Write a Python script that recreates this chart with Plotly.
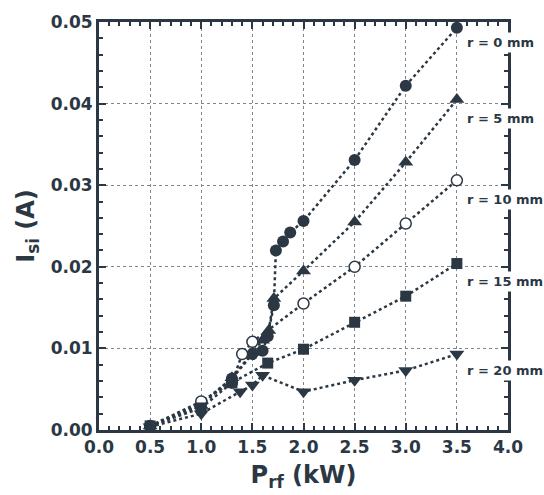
import plotly.graph_objects as go

# Data (P_rf in kW, I_si in A)
p_r0 = [0.5, 1.0, 1.3, 1.5, 1.6, 1.65, 1.71, 1.73, 1.8, 1.87, 2.0, 2.5, 3.0, 3.5]
i_r0 = [0.0005, 0.0033, 0.0063, 0.0093, 0.0097, 0.0115, 0.0153, 0.0220, 0.0231, 0.0242, 0.0256, 0.0331, 0.0422, 0.0493]

p_r5 = [0.5, 1.0, 1.3, 1.5, 1.6, 1.66, 1.71, 2.0, 2.5, 3.0, 3.5]
i_r5 = [0.0005, 0.0030, 0.0064, 0.0095, 0.0110, 0.0122, 0.0161, 0.0195, 0.0255, 0.0328, 0.0405]

p_r10 = [0.5, 1.0, 1.3, 1.4, 1.5, 2.0, 2.5, 3.0, 3.5]
i_r10 = [0.0005, 0.0035, 0.0058, 0.0093, 0.0108, 0.0155, 0.0200, 0.0253, 0.0306]

p_r15 = [0.5, 1.0, 1.3, 1.65, 2.0, 2.5, 3.0, 3.5]
i_r15 = [0.0005, 0.0027, 0.0058, 0.0082, 0.0099, 0.0132, 0.0164, 0.0204]

p_r20 = [0.5, 1.0, 1.38, 1.5, 1.6, 2.0, 2.5, 3.0, 3.5]
i_r20 = [0.0004, 0.0020, 0.0047, 0.0055, 0.0067, 0.0047, 0.0061, 0.0073, 0.0093]

labels = ["r = 0 mm", "r = 5 mm", "r = 10 mm", "r = 15 mm", "r = 20 mm"]
label_y = [0.0475, 0.0382, 0.0282, 0.0182, 0.0073]

x_ticks = [0.0, 0.5, 1.0, 1.5, 2.0, 2.5, 3.0, 3.5, 4.0]
y_ticks = [0.00, 0.01, 0.02, 0.03, 0.04, 0.05]

INK = "#2b3844"
FONT = "DejaVu Sans"

series = [
    (p_r0, i_r0, dict(symbol="circle", size=12, color=INK)),
    (p_r5, i_r5, dict(symbol="triangle-up", size=13, color=INK)),
    (p_r10, i_r10, dict(symbol="circle", size=11, color="white", line=dict(color=INK, width=1.5))),
    (p_r15, i_r15, dict(symbol="square", size=11, color=INK)),
    (p_r20, i_r20, dict(symbol="triangle-down", size=13, color=INK)),
]

fig = go.Figure()
for xs, ys, mk in series:
    fig.add_trace(go.Scatter(
        x=xs, y=ys, mode="lines+markers",
        line=dict(color=INK, width=2.5, dash="dot"),
        marker=mk, showlegend=False, cliponaxis=False,
    ))

for txt, yv in zip(labels, label_y):
    fig.add_annotation(
        x=3.57, y=yv, xref="x", yref="y", text=txt, showarrow=False,
        xanchor="left", yanchor="middle",
        font=dict(family=FONT, size=13, color=INK, weight="bold"),
        bgcolor="white", borderpad=2,
    )

axis_common = dict(
    showline=True, linecolor=INK, linewidth=3, mirror="allticks",
    ticks="inside", ticklen=7, tickwidth=2, tickcolor=INK,
    showgrid=True, gridcolor="#7d8790", gridwidth=1.2, griddash="dot",
    zeroline=False,
    tickfont=dict(family=FONT, size=17, color=INK, weight="bold"),
)

fig.update_xaxes(
    range=[0, 4], tickvals=x_ticks, ticktext=[f"{v:.1f}" for v in x_ticks],
    minor=dict(dtick=0.1, ticks="inside", ticklen=4, tickwidth=1.5, tickcolor=INK, showgrid=False),
    title=dict(text="P<sub>rf</sub> (kW)", standoff=10,
               font=dict(family=FONT, size=24, color=INK, weight="bold")),
    **axis_common,
)
fig.update_yaxes(
    range=[0, 0.05], tickvals=y_ticks, ticktext=[f"{v:.2f}" for v in y_ticks],
    minor=dict(dtick=0.002, ticks="inside", ticklen=4, tickwidth=1.5, tickcolor=INK, showgrid=False),
    title=dict(text="I<sub>si</sub> (A)", standoff=10,
               font=dict(family=FONT, size=24, color=INK, weight="bold")),
    **axis_common,
)

fig.update_layout(
    width=544, height=495,
    margin=dict(l=99, r=36, t=22, b=65),
    paper_bgcolor="white", plot_bgcolor="white",
)

fig.write_html(
    "out.html",
    config={"displayModeBar": False},
    post_script="document.body.style.margin='0';document.body.style.overflow='hidden';",
)
